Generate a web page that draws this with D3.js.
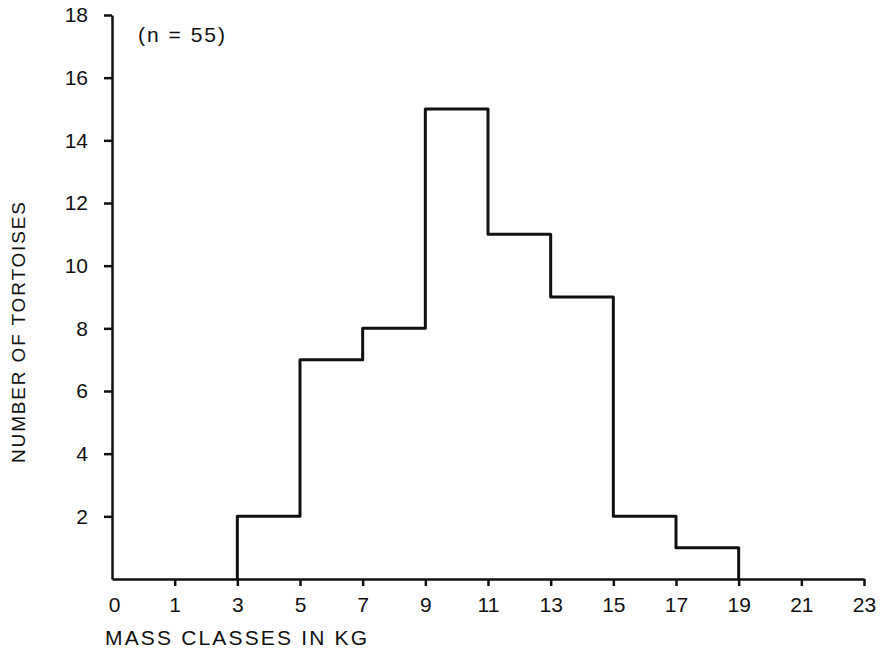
<!DOCTYPE html>
<html>
<head>
<meta charset="utf-8">
<script src="https://cdn.jsdelivr.net/npm/d3@7"></script>
<style>
  html, body { margin: 0; padding: 0; background: #fff; }
  svg { display: block; }
  text { font-family: "Liberation Sans", Arial, Helvetica, sans-serif; fill: #111; }
</style>
</head>
<body>
<svg id="chart" width="880" height="651"></svg>
<script>
// ---- data ----
const binStarts = [3, 5, 7, 9, 11, 13, 15, 17];
const binWidth = 2;
const counts = [2, 7, 8, 15, 11, 9, 2, 1];
const xTickValues = [-1, 1, 3, 5, 7, 9, 11, 13, 15, 17, 19, 21, 23];
const xTickLabels = ["0", "1", "3", "5", "7", "9", "11", "13", "15", "17", "19", "21", "23"];
const yTickValues = [2, 4, 6, 8, 10, 12, 14, 16, 18];
const xTitle = "MASS CLASSES IN KG";
const yTitle = "NUMBER OF TORTOISES";
const note = "(n = 55)";

const svg = d3.select("#chart");
const x = d3.scaleLinear().domain([-1, 23]).range([112, 864]);
const y = d3.scaleLinear().domain([0, 18]).range([579, 15]);
const ink = "#111";

// x axis
const xAxis = svg.append("g")
  .attr("transform", `translate(0,${y(0)})`)
  .call(d3.axisBottom(x).tickValues(xTickValues).tickSize(7).tickSizeOuter(0).tickPadding(11)
    .tickFormat((d, i) => xTickLabels[i]));
xAxis.select(".domain").attr("stroke", ink).attr("stroke-width", 2.5);
xAxis.selectAll(".tick line").attr("stroke", ink).attr("stroke-width", 2.5)
  .filter(d => d === -1).remove();
xAxis.selectAll(".tick text").attr("font-size", 21).style("font-family", "'Liberation Sans', Arial, sans-serif").attr("fill", ink)
  .attr("dx", d => d === -1 ? 2 : 0);

// y axis
const yAxis = svg.append("g")
  .attr("transform", `translate(${x(-1)},0)`)
  .call(d3.axisLeft(y).tickValues(yTickValues).tickSize(8).tickSizeOuter(0).tickPadding(16));
yAxis.select(".domain").attr("stroke", ink).attr("stroke-width", 2.5);
yAxis.selectAll(".tick line").attr("stroke", ink).attr("stroke-width", 2.5);
yAxis.selectAll(".tick text").attr("font-size", 21).style("font-family", "'Liberation Sans', Arial, sans-serif").attr("fill", ink);

// histogram outline (step)
const pts = [];
pts.push([binStarts[0], 0]);
binStarts.forEach((s, i) => {
  pts.push([s, counts[i]]);
  pts.push([s + binWidth, counts[i]]);
});
pts.push([binStarts[binStarts.length - 1] + binWidth, 0]);
svg.append("path")
  .attr("d", d3.line().x(d => x(d[0])).y(d => y(d[1]))(pts))
  .attr("fill", "none")
  .attr("stroke", ink)
  .attr("stroke-width", 3)
  .attr("stroke-linejoin", "round");

// titles
svg.append("text")
  .attr("x", 105).attr("y", 645)
  .attr("font-size", 21)
  .attr("textLength", 262).attr("lengthAdjust", "spacing")
  .text(xTitle);

svg.append("text")
  .attr("transform", "translate(25,463) rotate(-90)")
  .attr("font-size", 19)
  .attr("textLength", 261).attr("lengthAdjust", "spacing")
  .text(yTitle);

svg.append("text")
  .attr("x", 138).attr("y", 42)
  .attr("font-size", 21)
  .attr("textLength", 87).attr("lengthAdjust", "spacing")
  .text(note);
</script>
</body>
</html>
